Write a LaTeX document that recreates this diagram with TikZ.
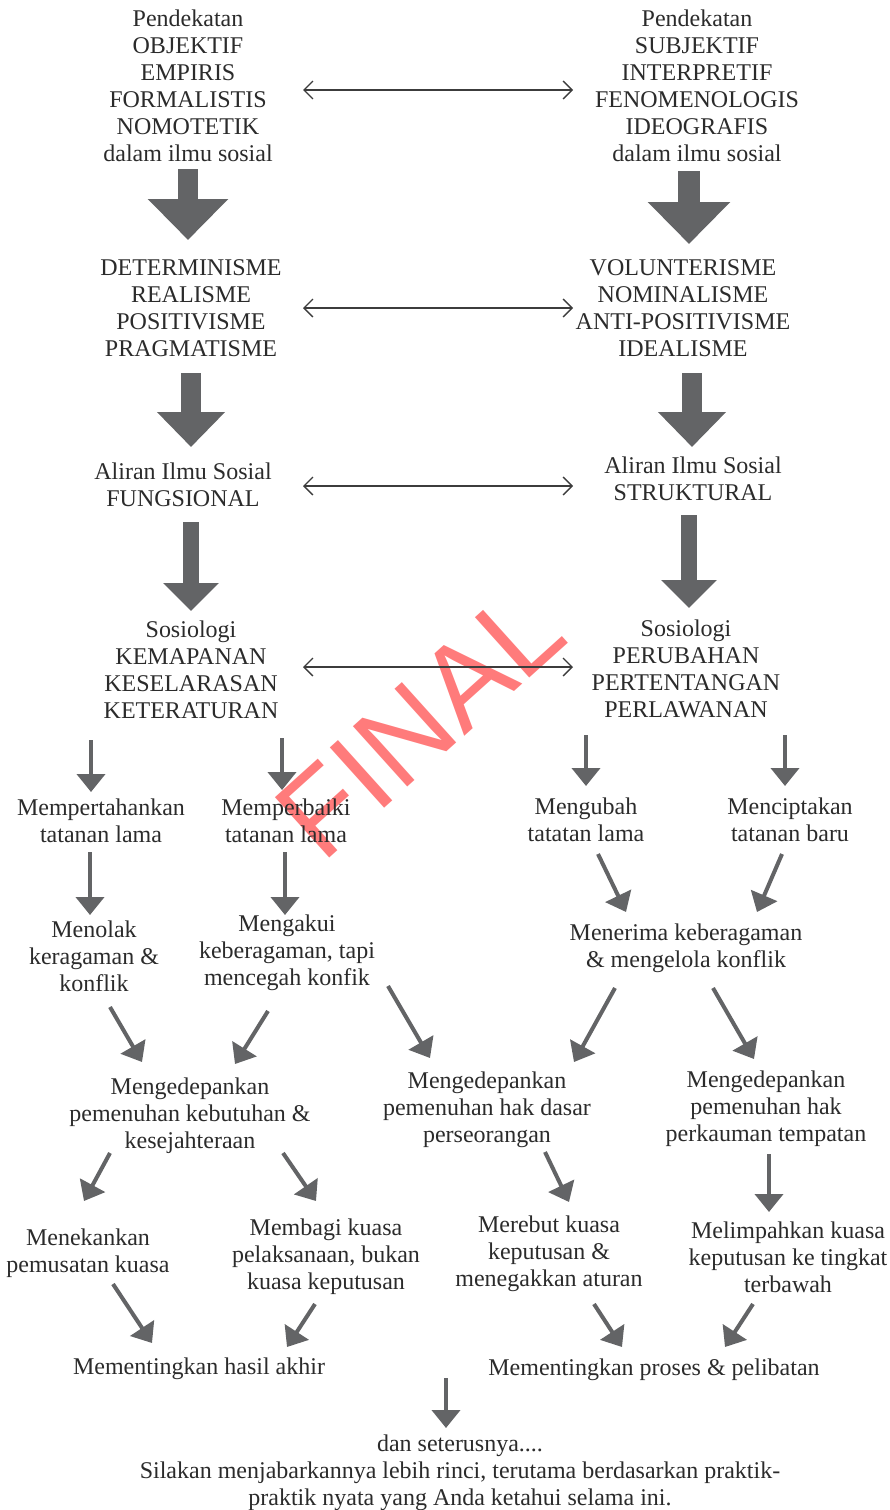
\documentclass[tikz,border=0pt]{standalone}
\usepackage{fontspec}
\setmainfont{Liberation Serif}
\newfontfamily\wmfont{Liberation Sans}
\usetikzlibrary{arrows.meta,calc}
\definecolor{inkgray}{HTML}{2B2B2B}
\definecolor{arrgray}{HTML}{636466}
\definecolor{duogray}{HTML}{3C3C3C}
\definecolor{wmred}{HTML}{FF7B7B}

\begin{document}
\begin{tikzpicture}[x=1pt,y=-1pt,
  txt/.style={align=center, inner sep=0pt, text=inkgray, font=\fontsize{24}{27}\selectfont},
  bigarr/.style n args={3}{draw=arrgray, line width=#1, -{Triangle[length=#2,width=#3]}},
  thinarr/.style={draw=arrgray, line width=4pt, -{Triangle[length=18pt,width=28pt]}},
  duoarr/.style={draw=duogray, line width=1.3pt, {Straight Barb[length=9pt,width=18pt]}-{Straight Barb[length=9pt,width=18pt]}}]

  \useasboundingbox (0,0) rectangle (890,1510);

  % --- watermark ---
  \node[rotate=42, text=wmred, inner sep=0pt, font=\wmfont\fontsize{118}{118}\selectfont] (final) at (420,722) {FINAL};

  % --- two paradigms ---
  \node[txt] (objektif) at (188,86) {Pendekatan\\OBJEKTIF\\EMPIRIS\\FORMALISTIS\\NOMOTETIK\\dalam ilmu sosial};
  \node[txt] (subjektif) at (697,86) {Pendekatan\\SUBJEKTIF\\INTERPRETIF\\FENOMENOLOGIS\\IDEOGRAFIS\\dalam ilmu sosial};
  \node[txt] (determin) at (191,308) {DETERMINISME\\REALISME\\POSITIVISME\\PRAGMATISME};
  \node[txt] (volunter) at (683,308) {VOLUNTERISME\\NOMINALISME\\ANTI-POSITIVISME\\IDEALISME};
  \node[txt] (fungsi) at (183,485) {Aliran Ilmu Sosial\\FUNGSIONAL};
  \node[txt] (struktur) at (693,479) {Aliran Ilmu Sosial\\STRUKTURAL};
  \node[txt] (mapan) at (191,670) {Sosiologi\\KEMAPANAN\\KESELARASAN\\KETERATURAN};
  \node[txt] (ubah) at (686,669) {Sosiologi\\PERUBAHAN\\PERTENTANGAN\\PERLAWANAN};

  % --- block arrows ---
  \draw[bigarr={20pt}{41pt}{78pt}] ($(objektif)+(0,83)$) -- ($(objektif)+(0,154)$);
  \draw[bigarr={22pt}{42pt}{80pt}] ($(subjektif)+(-8,85)$) -- ($(subjektif)+(-8,158)$);
  \draw[bigarr={20pt}{35pt}{66pt}] ($(determin)+(0,65)$) -- ($(determin)+(0,139)$);
  \draw[bigarr={20pt}{35pt}{66pt}] ($(volunter)+(9,65)$) -- ($(volunter)+(9,139)$);
  \draw[bigarr={16pt}{28pt}{54pt}] ($(fungsi)+(8,37)$) -- ($(fungsi)+(8,126)$);
  \draw[bigarr={16pt}{28pt}{54pt}] ($(struktur)+(-4,36)$) -- ($(struktur)+(-4,129)$);

  % --- double arrows ---
  \draw[duoarr] ($(objektif)+(115,4)$) -- ($(subjektif)+(-124,4)$);
  \draw[duoarr] ($(determin)+(112,0)$) -- ($(volunter)+(-110,0)$);
  \draw[duoarr] ($(fungsi)+(120,1)$) -- ($(struktur)+(-120,7)$);
  \draw[duoarr] ($(mapan)+(112,-3)$) -- ($(ubah)+(-113,-2)$);

  % --- consequences ---
  \node[txt] (tahan) at (101,821) {Mempertahankan\\tatanan lama};
  \node[txt] (baiki) at (286,821) {Memperbaiki\\tatanan lama};
  \node[txt] (ubahlama) at (586,820) {Mengubah\\tatatan lama};
  \node[txt] (cipta) at (790,820) {Menciptakan\\tatanan baru};
  \node[txt] (tolak) at (94,956) {Menolak\\keragaman \&\\konflik};
  \node[txt] (akui) at (287,953) {Mengakui\\keberagaman, tapi\\mencegah konfik};
  \node[txt] (terima) at (686,948) {Menerima keberagaman\\\& mengelola konflik};
  \node[txt] (butuh) at (190,1116) {Mengedepankan\\pemenuhan kebutuhan \&\\kesejahteraan};
  \node[txt] (hakdasar) at (487,1110) {Mengedepankan\\pemenuhan hak dasar\\perseorangan};
  \node[txt] (kaum) at (766,1109) {Mengedepankan\\pemenuhan hak\\perkauman tempatan};
  \node[txt] (pusat) at (88,1253) {Menekankan\\pemusatan kuasa};
  \node[txt] (bagi) at (326,1257) {Membagi kuasa\\pelaksanaan, bukan\\kuasa keputusan};
  \node[txt] (rebut) at (549,1254) {Merebut kuasa\\keputusan \&\\menegakkan aturan};
  \node[txt] (limpah) at (788,1257) {Melimpahkan kuasa\\keputusan ke tingkat\\terbawah};
  \node[txt] (hasil) at (199,1369) {Mementingkan hasil akhir};
  \node[txt] (proses) at (654,1370) {Mementingkan proses \& pelibatan};
  \node[txt] (lanjut) at (460,1473) {dan seterusnya....\\Silakan menjabarkannya lebih rinci, terutama berdasarkan praktik-\\praktik nyata yang Anda ketahui selama ini.};

  % --- thin arrows ---
  \draw[thinarr] ($(mapan)+(-100,70)$) -- ($(tahan)+(-10,-29)$);
  \draw[thinarr] ($(mapan)+(91,68)$) -- ($(baiki)+(-4,-31)$);
  \draw[thinarr] ($(ubah)+(-100,66)$) -- ($(ubahlama)+(0,-34)$);
  \draw[thinarr] ($(ubah)+(99,66)$) -- ($(cipta)+(-5,-34)$);

  \draw[thinarr] ($(tahan)+(-11,31)$) -- ($(tolak)+(-4,-41)$);
  \draw[thinarr] ($(baiki)+(-1,31)$) -- ($(akui)+(-2,-38)$);
  \draw[thinarr] ($(ubahlama)+(12,34)$) -- ($(terima)+(-60,-36)$);
  \draw[thinarr] ($(cipta)+(-8,34)$) -- ($(terima)+(71,-36)$);

  \draw[thinarr] ($(tolak)+(16,51)$) -- ($(butuh)+(-48,-54)$);
  \draw[thinarr] ($(akui)+(-19,58)$) -- ($(butuh)+(45,-52)$);
  \draw[thinarr] ($(akui)+(101,33)$) -- ($(hakdasar)+(-57,-52)$);
  \draw[thinarr] ($(terima)+(-71,40)$) -- ($(hakdasar)+(87,-48)$);
  \draw[thinarr] ($(terima)+(27,40)$) -- ($(kaum)+(-12,-50)$);

  \draw[thinarr] ($(butuh)+(-80,37)$) -- ($(pusat)+(-4,-52)$);
  \draw[thinarr] ($(butuh)+(93,37)$) -- ($(bagi)+(-10,-56)$);
  \draw[thinarr] ($(hakdasar)+(58,42)$) -- ($(rebut)+(20,-52)$);
  \draw[thinarr] ($(kaum)+(3,45)$) -- ($(limpah)+(-19,-45)$);

  \draw[thinarr] ($(pusat)+(25,31)$) -- ($(hasil)+(-47,-26)$);
  \draw[thinarr] ($(bagi)+(-11,47)$) -- ($(hasil)+(88,-22)$);
  \draw[thinarr] ($(rebut)+(45,50)$) -- ($(proses)+(-32,-23)$);
  \draw[thinarr] ($(limpah)+(-35,47)$) -- ($(proses)+(71,-23)$);

  \draw[thinarr] ($(lanjut)+(-14,-95)$) -- ($(lanjut)+(-14,-45)$);

\end{tikzpicture}
\end{document}
